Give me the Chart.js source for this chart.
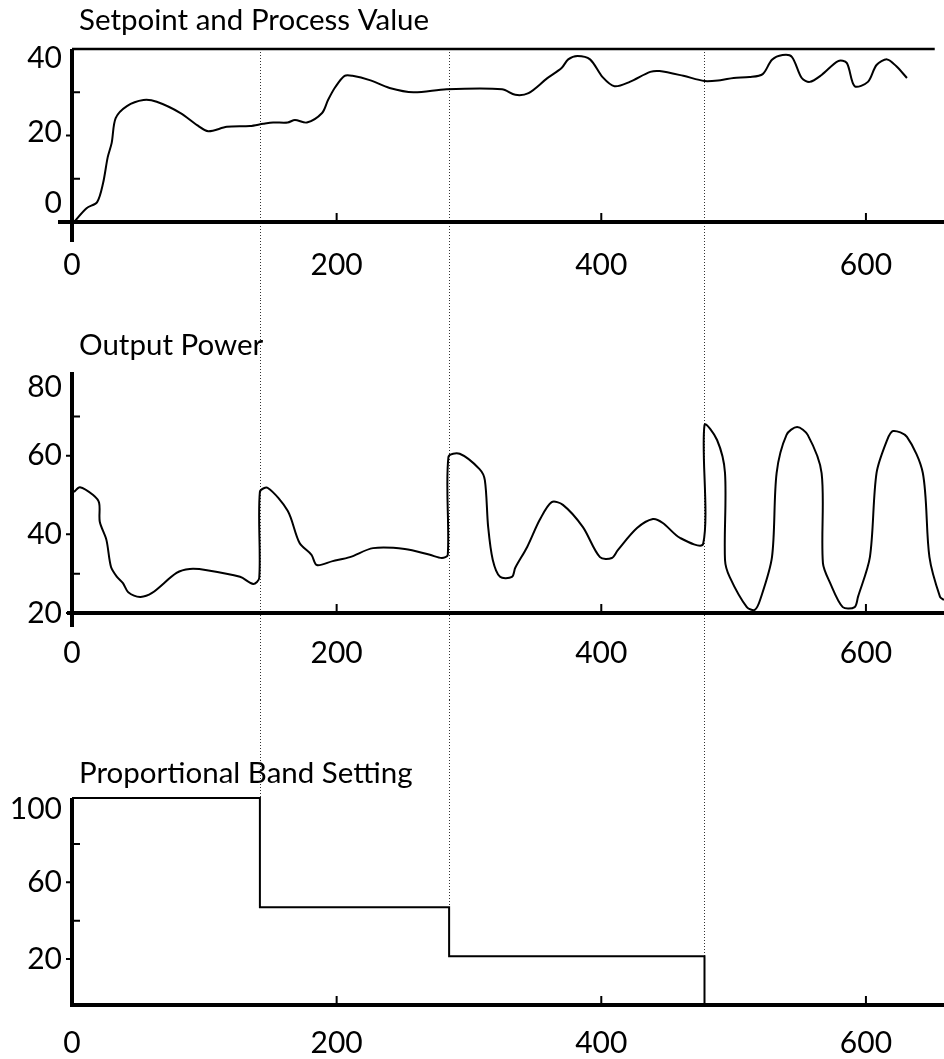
<!DOCTYPE html>
<html>
<head>
<meta charset="utf-8">
<script src="https://cdn.jsdelivr.net/npm/chart.js@4.4.1/dist/chart.umd.min.js"></script>
<style>
  html, body { margin: 0; padding: 0; background: #fff; }
  canvas { display: block; }
</style>
</head>
<body>
<canvas id="pv" width="944" height="300"></canvas>
<canvas id="power" width="944" height="400"></canvas>
<canvas id="band" width="944" height="359"></canvas>
<script>
// time axis (seconds)
const X_MAX = 659;
const X_TICKS = [0, 200, 400, 600];
const SWITCH_TIMES = [142, 285, 478];

// setpoint and process value
const SETPOINT = 40;
const SETPOINT_END = 652;
const PV_TIME = [1.5, 11, 19, 23.5, 27, 30, 33, 41.5, 54, 64, 82, 94.5, 103, 117, 134.5, 144.5, 152, 163, 168.5, 177.5,
  189, 193.5, 199, 206, 212, 225, 240, 258, 283, 325, 335, 345, 359, 370, 375, 382, 391.5, 401, 410, 421.5,
  437, 444, 462, 478, 490, 500, 512, 522, 529, 537, 544, 551.5, 557.5, 566.5, 579, 585.5, 591.5, 601.5, 608, 616, 623, 631];
const PV_VALUE = [0, 3.2, 4.6, 9, 15, 18.3, 24, 26.8, 28.2, 27.8, 25.2, 22.4, 21, 22, 22.2, 22.7, 23, 23, 23.6, 23,
  25.2, 28.2, 31.2, 33.8, 33.8, 32.8, 31, 30, 30.7, 30.7, 29.4, 29.8, 33.2, 35.6, 37.6, 38.4, 37.6, 33.5, 31.4, 32.4,
  34.7, 34.9, 33.8, 32.6, 32.8, 33.3, 33.5, 34.2, 37.5, 38.6, 38.2, 33.3, 32.4, 34, 37.2, 36.8, 31.4, 32.4, 36.3, 37.6, 36, 33.3];
const PV_Y_TICKS = [40, 20, 0];

// output power (%)
const POWER_TIME = [1.5, 6, 16, 20.5, 21, 26, 29.5, 34, 38.5, 42.5, 51.5, 60.5, 79, 89, 102, 127, 137, 141.5,
  142, 148, 163, 172, 181, 185, 197, 210, 227.5, 251.5, 270.5, 279.5, 284,
  284.5, 293, 308, 312, 314.5, 318, 323.5, 332.5, 335, 344, 353.5, 362.5, 371, 386, 399, 408, 412.5, 427, 439, 446.5, 459.5, 477,
  478, 487.5, 493.5, 493.5, 497, 510, 516, 520, 529, 532.5, 540, 548, 556, 566.5, 567.5, 573, 582.5, 591.5, 594, 603,
  608, 616, 620.5, 631, 643, 648, 656, 659];
const POWER_VALUE = [50.8, 52, 50, 48, 43.2, 38.6, 31.7, 29.2, 27.6, 25.3, 24.1, 25.1, 30.2, 31.2, 30.9, 29.2, 27.4, 28.9,
  50.8, 51.8, 46, 37.8, 34.8, 32.2, 33.2, 34.2, 36.5, 36.3, 34.8, 34, 34.8,
  59.7, 60.5, 56.6, 53.8, 41.9, 33.5, 29.2, 29.2, 31.5, 36.8, 43.7, 48.2, 47.5, 41.9, 34.2, 34, 36, 41.6, 43.9, 42.9, 39.1, 37.6,
  67.8, 64, 55.6, 33.5, 29.2, 21.5, 20.8, 23.3, 34.2, 55.6, 65.3, 67.3, 65.3, 55.6, 32.7, 27.6, 21.5, 21.5, 24.1, 34.2,
  55.6, 64, 66.3, 64.8, 55.6, 34.2, 24.1, 23.3];
const POWER_Y_TICKS = [80, 60, 40, 20];

// proportional band, one level per interval between switches
const BAND_LEVELS = [104, 47, 21.5, -4];
const BAND_Y_TICKS = [100, 60, 20];

const FONT = 'Lato, "Open Sans", sans-serif';

function points(xs, ys) {
  return xs.map((t, i) => ({ x: t, y: ys[i] }));
}

function stepPoints(times, levels) {
  const pts = [{ x: 0, y: levels[0] }];
  times.forEach((t, i) => {
    pts.push({ x: t, y: levels[i] });
    pts.push({ x: t, y: levels[i + 1] });
  });
  return pts;
}

// titles, hand-style axes, tick marks and the dotted switch guides
const figureAxes = {
  id: 'figureAxes',
  beforeDatasetsDraw(chart, args, o) {
    const { ctx, chartArea: a, scales: { x, y } } = chart;
    ctx.save();
    ctx.strokeStyle = '#333';
    ctx.lineWidth = 1;
    ctx.setLineDash([1, 2]);
    SWITCH_TIMES.forEach((t, i) => {
      const px = Math.round(x.getPixelForValue(t)) + 0.5;
      const y0 = o.guideFromArea ? a.top : 0;
      const y1 = o.guideStops ? y.getPixelForValue(o.guideStops[i]) : chart.height;
      ctx.beginPath();
      ctx.moveTo(px, y0);
      ctx.lineTo(px, y1);
      ctx.stroke();
    });
    ctx.restore();
  },
  afterDatasetsDraw(chart, args, o) {
    const { ctx, chartArea: a, scales: { x, y } } = chart;
    ctx.save();
    ctx.strokeStyle = '#000';
    ctx.fillStyle = '#000';
    ctx.lineCap = 'butt';

    ctx.lineWidth = 4;
    ctx.beginPath();
    ctx.moveTo(a.left - o.xLead, a.bottom);
    ctx.lineTo(a.right, a.bottom);
    ctx.moveTo(a.left, a.top);
    ctx.lineTo(a.left, a.bottom + o.yTail);
    ctx.stroke();

    ctx.lineWidth = 2;
    ctx.beginPath();
    o.majorTicks.forEach(v => {
      const py = y.getPixelForValue(v);
      ctx.moveTo(a.left - 6, py);
      ctx.lineTo(a.left, py);
    });
    o.minorTicks.forEach(v => {
      const py = y.getPixelForValue(v);
      ctx.moveTo(a.left, py);
      ctx.lineTo(a.left + 8, py);
    });
    X_TICKS.slice(1).forEach(v => {
      const px = x.getPixelForValue(v);
      ctx.moveTo(px, a.bottom);
      ctx.lineTo(px, a.bottom - 9);
    });
    ctx.stroke();

    ctx.font = '30px ' + FONT;
    ctx.textBaseline = 'middle';
    ctx.textAlign = 'right';
    o.yLabels.forEach((v, i) => {
      ctx.fillText(String(v), 62, y.getPixelForValue(v) + (o.yNudge[i] || 0));
    });
    ctx.textAlign = 'center';
    X_TICKS.forEach(v => {
      ctx.fillText(String(v), x.getPixelForValue(v), a.bottom + o.xLabelGap);
    });

    ctx.font = '29.5px ' + FONT;
    ctx.textAlign = 'left';
    ctx.fillText(o.title, 79, o.titleY);
    ctx.restore();
  }
};

function makeChart(id, datasets, yMin, yMax, padding, axesOpts) {
  return new Chart(document.getElementById(id), {
    type: 'line',
    data: { datasets },
    options: {
      responsive: false,
      animation: false,
      layout: { padding },
      plugins: {
        legend: { display: false },
        tooltip: { enabled: false },
        figureAxes: axesOpts
      },
      scales: {
        x: { type: 'linear', min: 0, max: X_MAX, display: false },
        y: { type: 'linear', min: yMin, max: yMax, display: false }
      }
    },
    plugins: [figureAxes]
  });
}

const lineStyle = { borderColor: '#000', borderWidth: 2, pointRadius: 0, fill: false };

makeChart('pv', [
  { ...lineStyle, label: 'Setpoint', data: [{ x: 0, y: SETPOINT }, { x: SETPOINT_END, y: SETPOINT }], borderWidth: 2.5, clip: false },
  { ...lineStyle, label: 'Process Value', data: points(PV_TIME, PV_VALUE), tension: 0.3 }
], 0, 40, { left: 72, top: 49, right: 0, bottom: 78 }, {
  title: 'Setpoint and Process Value', titleY: 20,
  majorTicks: [20], minorTicks: [30, 10],
  yLabels: PV_Y_TICKS, yNudge: [9, -3, -19],
  xLead: 14, yTail: 20, xLabelGap: 43, guideFromArea: true
});

makeChart('power', [
  { ...lineStyle, label: 'Output Power', data: points(POWER_TIME, POWER_VALUE), tension: 0.3 }
], 20, 81.3, { left: 72, top: 72, right: 0, bottom: 87 }, {
  title: 'Output Power', titleY: 45,
  majorTicks: [60, 40, 20], minorTicks: [70, 30],
  yLabels: POWER_Y_TICKS, yNudge: [10, 0, 0, 0],
  xLead: 5, yTail: 14, xLabelGap: 40
});

makeChart('band', [
  { ...lineStyle, label: 'Proportional Band', data: stepPoints(SWITCH_TIMES, BAND_LEVELS), clip: false }
], -4, 104, { left: 72, top: 98, right: 0, bottom: 54 }, {
  title: 'Proportional Band Setting', titleY: 73,
  majorTicks: [60, 20], minorTicks: [80, 40],
  yLabels: BAND_Y_TICKS, yNudge: [4, 0, 0],
  xLead: 2, yTail: 0, xLabelGap: 38, guideStops: BAND_LEVELS.slice(0, 3)
});
</script>
</body>
</html>
